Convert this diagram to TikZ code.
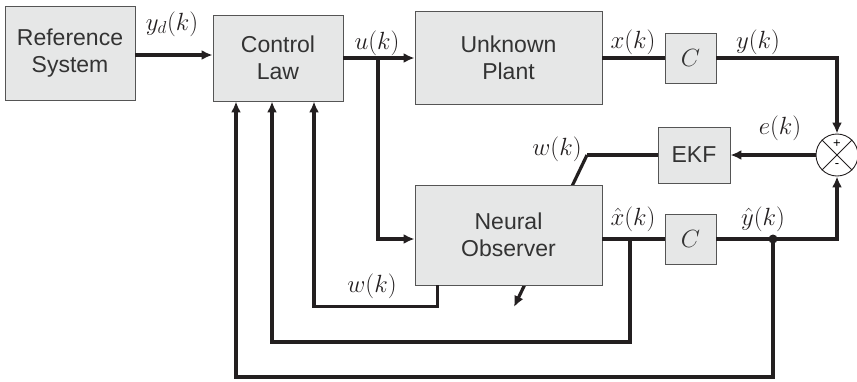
\documentclass[tikz,border=0pt]{standalone}
\usepackage{fontspec}
\setmainfont{Liberation Sans}
\usetikzlibrary{calc}
\usetikzlibrary{arrows.meta}
\usetikzlibrary{positioning}
\definecolor{boxfill}{HTML}{E6E7E7}
\definecolor{boxline}{HTML}{555555}
\definecolor{wire}{HTML}{231F20}
\tikzstyle{blk}=[draw=boxline, fill=boxfill, line width=0.9pt, text=black!80,
                align=center, inner sep=0pt]
\tikzstyle{sig}=[draw=wire, line width=3.2pt]
\tikzstyle{lbl}=[inner sep=0pt, text=wire, font=\fontsize{24}{24}\selectfont]

\begin{document}
\begin{tikzpicture}[x=1pt,y=-1pt,>={Latex[length=11pt,width=10pt]},
                    font=\fontsize{23}{27}\selectfont]
\useasboundingbox (0,0) rectangle (857,381);
% adaptive weight arrow, passes under the observer
\coordinate (wt) at (587,155);
\coordinate (wb) at (514,307);
\draw[sig,->] (wt) -- (wb);
% blocks
\node[blk,minimum width=130pt,minimum height=94pt] (ref) at (70,53) {Reference\\System};
\node[blk,minimum width=130pt,minimum height=86pt] (law) at (278,58) {Control\\Law};
\node[blk,minimum width=187pt,minimum height=93pt] (plant) at (508.5,58) {Unknown\\Plant};
\node[blk,minimum width=187pt,minimum height=100pt] (obs) at (508.5,235) {Neural\\Observer};
\node[blk,minimum width=51pt,minimum height=50pt] (c1) at (690.5,58) {$C$};
\node[blk,minimum width=51pt,minimum height=50pt] (c2) at (690.5,239) {$C$};
\node[blk,minimum width=72pt,minimum height=56pt] (ekf) at (694,155) {EKF};
\node[circle,draw=wire,fill=white,line width=0.9pt,minimum size=42pt,inner sep=0pt] (sum) at (837,155) {};
\draw[wire,line width=0.9pt] (sum.north west) -- (sum.south east);
\draw[wire,line width=0.9pt] (sum.north east) -- (sum.south west);
\node[inner sep=0pt,font=\fontsize{13}{13}\selectfont] at ($(sum.center)+(0,-11)$) {+};
\node[inner sep=0pt,font=\fontsize{13}{13}\selectfont] at ($(sum.center)+(0,11)$) {-};
% branch points
\coordinate (ub) at (378,58);
\coordinate (xb) at (630,239);
\coordinate (yb) at (773,239);
% forward path
\draw[sig,->] (ref.east |- 0,55) -- (law.west |- 0,55);
\draw[sig,->] (law.east) -- (plant.west);
\draw[sig,->] (ub) |- (obs.west |- c2);
\draw[sig] (plant.east) -- (c1.west);
\draw[sig,->] (c1.east) -| (sum.north);
\draw[sig] (obs.east |- c2) -- (c2.west);
\draw[sig,->] (c2.east) -| (sum.south);
\draw[sig,->] (sum.west) -- (ekf.east);
\draw[sig] (ekf.west) -- (wt);
\fill[wire] (yb) circle (4.5pt);
% feedback to the control law
\draw[sig,->] (yb) -- ++(0,138) -| ($(law.south)+(-42,0)$);
\draw[sig,->] (xb) -- ++(0,103) -| ($(law.south)+(-6,0)$);
\draw[sig,->] ($(obs.south)+(-71,0)$) -- ++(0,21) -| ($(law.south)+(36,0)$);
% signal labels
\node[lbl] (ydl) at (172,24) {$y_d(k)$};
\node[lbl] (ul) at (377,43) {$u(k)$};
\node[lbl] (xl) at (633,42) {$x(k)$};
\node[lbl] (yl) at (758,42) {$y(k)$};
\node[lbl] (el) at (780,128) {$e(k)$};
\node[lbl] (wl) at (557,149) {$w(k)$};
\node[lbl] (xhl) at (633,219) {$\hat{x}(k)$};
\node[lbl] (yhl) at (763,219) {$\hat{y}(k)$};
\node[lbl] (wfl) at (372,286) {$w(k)$};
\end{tikzpicture}
\end{document}
